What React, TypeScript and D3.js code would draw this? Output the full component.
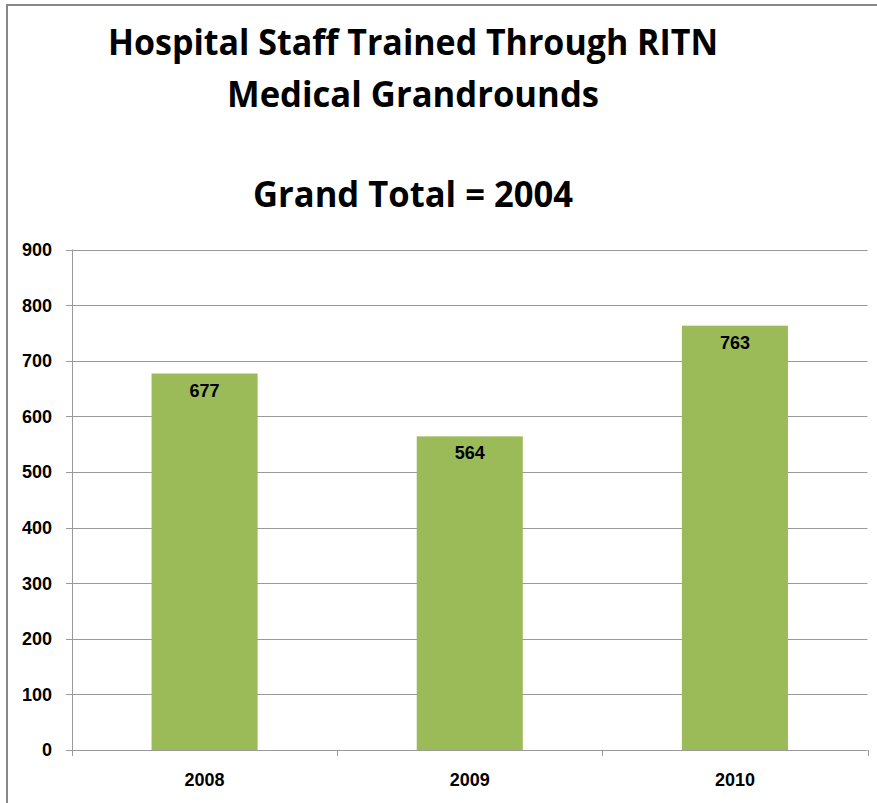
import React from "react";
import * as d3 from "d3";

const categories = ["2008", "2009", "2010"];
const values = [677, 564, 763];
const yTicks = [0, 100, 200, 300, 400, 500, 600, 700, 800, 900];
const titleLines = ["Hospital Staff Trained Through RITN", "Medical Grandrounds", "Grand Total = 2004"];

export default function App() {
  const W = 877, H = 803;
  const left = 72, right = 867.5, top = 249.5, bottom = 750;
  const x = d3.scaleBand<string>().domain(categories).range([left, right]).paddingInner(0.6).paddingOuter(0.3);
  const xb = d3.scaleBand<string>().domain(categories).range([left, right]);
  const y = d3.scaleLinear().domain([0, 900]).range([bottom, top]);
  const font = "'Liberation Sans', Arial, sans-serif";
  const tfont = "'Open Sans', 'Noto Sans', sans-serif";
  const grid = "#9a9a9a";
  const titleSpec = [
    { y: 55, len: 610 },
    { y: 106.5, len: 372 },
    { y: 206.5, len: 320 },
  ];
  const xEdges = [...categories.map((c) => xb(c)!), right];
  return (
    <svg width={W} height={H} style={{ position: "absolute", left: 0, top: 0, background: "#fff" }}>
      <rect x={0} y={0} width={W} height={H} fill="#fff" />
      <path d={`M7,${H} V5 H${W}`} fill="none" stroke="#888" strokeWidth={2} />
      {titleLines.map((t, i) => (
        <text key={i} x={413} y={titleSpec[i].y} textAnchor="middle" fontFamily={tfont} fontWeight="bold"
          fontSize={36} textLength={titleSpec[i].len} lengthAdjust="spacingAndGlyphs" fill="#000">{t}</text>
      ))}
      {yTicks.map((v) => (
        <g key={v}>
          <line x1={66} x2={v === 0 ? right : right} y1={Math.round(y(v)) + 0.5} y2={Math.round(y(v)) + 0.5} stroke={grid} strokeWidth={1} />
          <text x={52} y={y(v)} dy="0.36em" textAnchor="end" fontFamily={font} fontWeight="bold" fontSize={18} fill="#000">{v}</text>
        </g>
      ))}
      <line x1={left + 0.5} x2={left + 0.5} y1={top} y2={bottom} stroke={grid} strokeWidth={1} />
      {xEdges.map((ex, i) => (
        <line key={i} x1={Math.round(ex) + 0.5} x2={Math.round(ex) + 0.5} y1={bottom} y2={bottom + 6} stroke={grid} strokeWidth={1} />
      ))}
      {categories.map((c, i) => (
        <g key={c}>
          <rect x={x(c)!} y={y(values[i])} width={x.bandwidth()} height={bottom - y(values[i])} fill="#9BBB59" />
          <text x={x(c)! + x.bandwidth() / 2} y={y(values[i]) + 23} textAnchor="middle" fontFamily={font} fontWeight="bold" fontSize={18} fill="#000">{values[i]}</text>
          <text x={xb(c)! + xb.bandwidth() / 2} y={786} textAnchor="middle" fontFamily={font} fontWeight="bold" fontSize={18} fill="#000">{c}</text>
        </g>
      ))}
    </svg>
  );
}
